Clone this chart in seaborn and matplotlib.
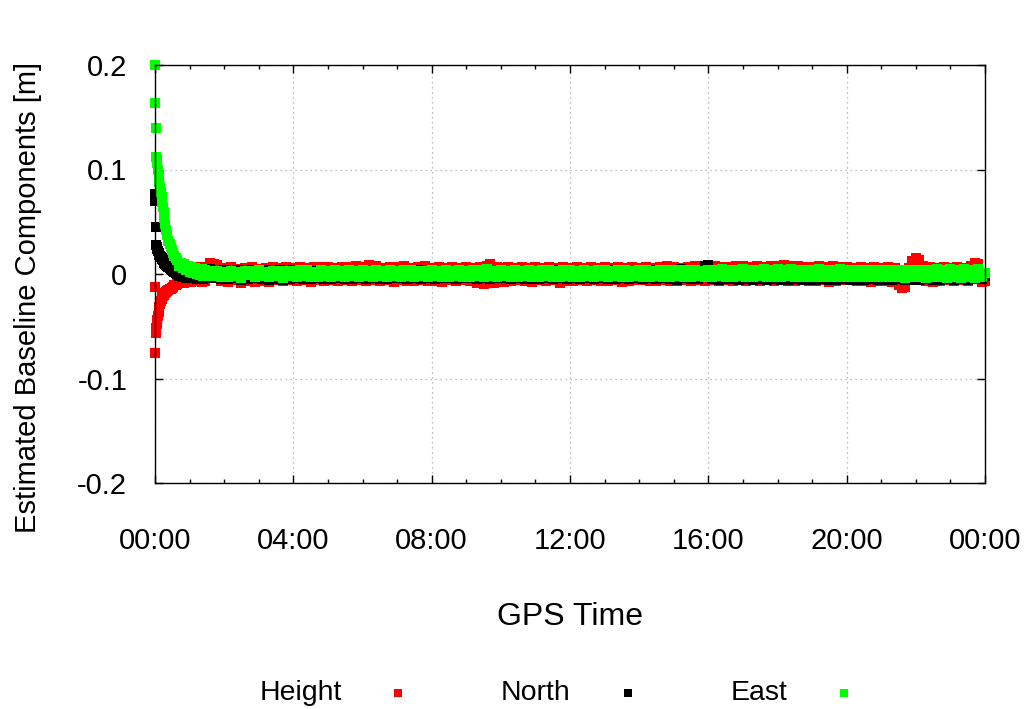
import matplotlib
matplotlib.use("Agg")
import matplotlib.pyplot as plt
from matplotlib.ticker import MultipleLocator
import seaborn as sns

# ---------------- data (GPS time in hours, values in metres) ----------------
early_time_h = [0.00, 0.01, 0.02, 0.03,
                0.05, 0.07, 0.09, 0.11, 0.13, 0.15, 0.17, 0.19, 0.21, 0.23, 0.25, 0.27,
                0.30, 0.33, 0.36, 0.39, 0.42, 0.45, 0.48,
                0.52, 0.56, 0.60,
                0.65, 0.70, 0.75, 0.80, 0.85, 0.90, 0.95, 1.00, 1.05, 1.10, 1.15, 1.20,
                1.25, 1.30, 1.35, 1.40, 1.45, 1.50]

steady_time_h = [1.6, 1.7, 1.8, 1.9,
                 2.0, 2.1, 2.2, 2.3, 2.4, 2.5, 2.6, 2.7, 2.8, 2.9,
                 3.0, 3.1, 3.2, 3.3, 3.4, 3.5, 3.6, 3.7, 3.8, 3.9,
                 4.0, 4.1, 4.2, 4.3, 4.4, 4.5, 4.6, 4.7, 4.8, 4.9,
                 5.0, 5.1, 5.2, 5.3, 5.4, 5.5, 5.6, 5.7, 5.8, 5.9,
                 6.0, 6.1, 6.2, 6.3, 6.4, 6.5, 6.6, 6.7, 6.8, 6.9,
                 7.0, 7.1, 7.2, 7.3, 7.4, 7.5, 7.6, 7.7, 7.8, 7.9,
                 8.0, 8.1, 8.2, 8.3, 8.4, 8.5, 8.6, 8.7, 8.8, 8.9,
                 9.0, 9.1, 9.2, 9.3, 9.4, 9.5, 9.6, 9.7, 9.8, 9.9,
                 10.0, 10.1, 10.2, 10.3, 10.4, 10.5, 10.6, 10.7, 10.8, 10.9,
                 11.0, 11.1, 11.2, 11.3, 11.4, 11.5, 11.6, 11.7, 11.8, 11.9,
                 12.0, 12.1, 12.2, 12.3, 12.4, 12.5, 12.6, 12.7, 12.8, 12.9,
                 13.0, 13.1, 13.2, 13.3, 13.4, 13.5, 13.6, 13.7, 13.8, 13.9,
                 14.0, 14.1, 14.2, 14.3, 14.4, 14.5, 14.6, 14.7, 14.8, 14.9,
                 15.0, 15.1, 15.2, 15.3, 15.4, 15.5, 15.6, 15.7, 15.8, 15.9,
                 16.0, 16.1, 16.2, 16.3, 16.4, 16.5, 16.6, 16.7, 16.8, 16.9,
                 17.0, 17.1, 17.2, 17.3, 17.4, 17.5, 17.6, 17.7, 17.8, 17.9,
                 18.0, 18.1, 18.2, 18.3, 18.4, 18.5, 18.6, 18.7, 18.8, 18.9,
                 19.0, 19.1, 19.2, 19.3, 19.4, 19.5, 19.6, 19.7, 19.8, 19.9,
                 20.0, 20.1, 20.2, 20.3, 20.4, 20.5, 20.6, 20.7, 20.8, 20.9,
                 21.0, 21.1, 21.2, 21.3, 21.4, 21.5, 21.6, 21.7, 21.8, 21.9,
                 22.0, 22.1, 22.2, 22.3, 22.4, 22.5, 22.6, 22.7, 22.8, 22.9,
                 23.0, 23.1, 23.2, 23.3, 23.4, 23.5, 23.6, 23.7, 23.8, 23.9,
                 24.0]

height_early = [-0.012, -0.076, -0.056, -0.052,
                -0.048, -0.044, -0.040, -0.036, -0.032, -0.029, -0.026, -0.024, -0.022, -0.021, -0.020, -0.019,
                -0.018, -0.017, -0.016, -0.015, -0.014, -0.014, -0.013,
                -0.012, -0.011, -0.011,
                -0.010, 0.002, -0.009, 0.004, -0.009, 0.006, -0.008, 0.007, -0.008, 0.006, -0.007, 0.007,
                -0.007, 0.006, -0.008, 0.007, -0.007, 0.006]
height_steady = [0.011, 0.010, 0.009, -0.007,
                 0.006, -0.008, 0.007, -0.006, 0.005, -0.009, 0.006, -0.007, 0.007, -0.008,
                 0.005, -0.007, 0.006, -0.008, 0.007, -0.006, 0.006, -0.007, 0.007, -0.006,
                 0.006, -0.007, 0.007, -0.006, 0.006, -0.008, 0.007, -0.006, 0.007, -0.007,
                 0.007, -0.006, 0.006, -0.007, 0.007, -0.006, 0.007, -0.007, 0.008, -0.006,
                 0.007, -0.007, 0.009, -0.006, 0.008, -0.007, 0.006, -0.006, 0.007, -0.008,
                 0.007, -0.006, 0.008, -0.007, 0.006, -0.007, 0.007, -0.006, 0.008, -0.007,
                 0.006, -0.007, 0.007, -0.008, 0.006, -0.006, 0.007, -0.007, 0.006, -0.006,
                 0.007, -0.007, 0.006, -0.009, 0.007, -0.010, 0.008, 0.010, -0.009, 0.007,
                 0.006, -0.008, 0.007, -0.007, 0.006, -0.006, 0.007, -0.007, 0.006, -0.008,
                 0.007, -0.006, 0.006, -0.007, 0.007, -0.006, 0.006, -0.009, 0.007, -0.007,
                 0.006, -0.007, 0.007, -0.006, 0.006, -0.007, 0.007, -0.006, 0.006, -0.007,
                 0.007, -0.007, 0.006, -0.006, 0.007, -0.008, 0.006, -0.007, 0.007, -0.006,
                 0.006, -0.006, 0.007, -0.007, 0.006, -0.007, 0.007, -0.006, 0.008, -0.007,
                 0.007, -0.007, 0.006, -0.006, 0.007, -0.007, 0.008, -0.006, 0.007, -0.007,
                 0.007, -0.006, 0.008, -0.007, 0.007, -0.006, 0.007, -0.007, 0.008, -0.006,
                 0.008, -0.007, 0.007, -0.006, 0.008, -0.007, 0.007, -0.006, 0.008, -0.007,
                 0.008, -0.006, 0.009, -0.007, 0.008, -0.007, 0.008, -0.006, 0.007, -0.007,
                 0.007, -0.007, 0.008, -0.006, 0.007, -0.008, 0.008, -0.007, 0.007, -0.006,
                 0.007, -0.006, 0.006, -0.007, 0.007, -0.007, 0.006, -0.008, 0.007, -0.007,
                 0.006, -0.007, 0.007, -0.008, 0.006, -0.011, -0.013, -0.012, 0.006, 0.012,
                 0.015, 0.013, 0.008, -0.007, 0.007, -0.008, 0.006, -0.007, 0.007, -0.006,
                 0.006, -0.007, 0.007, -0.006, 0.006, -0.007, 0.008, 0.011, 0.010, -0.008,
                 -0.007]

north_early = [0.077, 0.070, 0.045, 0.028,
               0.026, 0.024, 0.022, 0.020, 0.018, 0.017, 0.016, 0.015, 0.014, 0.013, 0.012, 0.011,
               0.010, 0.009, 0.008, 0.007, 0.006, 0.005, 0.004,
               0.003, 0.002, 0.001,
               0.000, -0.002, 0.003, -0.003, 0.002, -0.004, 0.003, -0.004, 0.002, -0.004, 0.003, -0.005,
               0.004, -0.004, 0.003, -0.005, 0.004, -0.004]
north_steady = [0.005, -0.004, 0.003, -0.005,
                0.004, -0.005, 0.003, -0.004, 0.004, -0.006, 0.002, -0.005, 0.004, -0.004,
                0.003, -0.005, 0.004, -0.006, 0.003, -0.005, 0.004, -0.006, 0.003, -0.005,
                0.004, -0.004, 0.003, -0.005, 0.004, -0.005, 0.003, -0.004, 0.004, -0.005,
                0.003, -0.005, 0.004, -0.004, 0.003, -0.005, 0.004, -0.005, 0.003, -0.004,
                0.004, -0.005, 0.003, -0.004, 0.004, -0.005, 0.003, -0.005, 0.004, -0.004,
                0.003, -0.004, 0.004, -0.005, 0.003, -0.004, 0.004, -0.005, 0.003, -0.004,
                0.004, -0.005, 0.003, -0.004, 0.004, -0.004, 0.003, -0.005, 0.004, -0.004,
                0.003, -0.004, 0.004, -0.005, 0.003, -0.004, 0.004, -0.005, 0.003, -0.004,
                0.004, -0.004, 0.003, -0.005, 0.004, -0.004, 0.003, -0.005, 0.004, -0.005,
                0.003, -0.005, 0.004, -0.004, 0.003, -0.005, 0.004, -0.004, 0.003, -0.005,
                0.004, -0.004, 0.003, -0.005, 0.004, -0.004, 0.003, -0.005, 0.004, -0.004,
                0.003, -0.005, 0.004, -0.005, 0.003, -0.004, 0.004, -0.005, 0.003, -0.004,
                0.004, -0.005, 0.003, -0.004, 0.004, -0.005, 0.003, -0.004, 0.004, -0.005,
                0.004, -0.006, 0.005, -0.004, 0.003, -0.005, 0.004, -0.005, 0.003, 0.008,
                0.009, -0.005, 0.004, -0.006, 0.003, -0.005, 0.004, -0.005, 0.003, -0.006,
                0.003, -0.005, 0.004, -0.006, 0.003, -0.005, 0.003, -0.006, 0.004, -0.005,
                0.002, -0.006, 0.003, -0.006, 0.002, -0.005, 0.003, -0.006, 0.002, -0.006,
                0.003, -0.006, 0.002, -0.005, 0.003, -0.006, 0.002, -0.006, 0.003, -0.005,
                0.002, -0.006, 0.003, -0.006, 0.002, -0.006, 0.003, -0.005, 0.002, -0.006,
                0.003, -0.006, 0.002, -0.006, 0.003, -0.005, 0.002, -0.006, 0.003, -0.006,
                0.002, -0.006, 0.003, -0.005, 0.002, -0.006, 0.003, -0.006, 0.002, -0.005,
                0.003, -0.006, 0.002, -0.005, 0.003, -0.006, 0.002, -0.005, 0.003, -0.005,
                -0.002]

east_early = [0.200, 0.164, 0.140, 0.112,
              0.110, 0.106, 0.100, 0.094, 0.088, 0.083, 0.078, 0.074, 0.069, 0.064, 0.059, 0.054,
              0.048, 0.042, 0.037, 0.032, 0.029, 0.026, 0.023,
              0.020, 0.017, 0.015,
              0.013, 0.008, 0.011, 0.006, 0.010, 0.004, 0.008, 0.002, 0.007, 0.001, 0.006, 0.000,
              0.005, -0.001, 0.005, -0.002, 0.004, -0.002]
east_steady = [0.0030, -0.0015, 0.0025, -0.0030,
               0.0020, -0.0030, 0.0030, -0.0020, 0.0015, -0.0035, 0.0030, -0.0010, 0.0025, -0.0030,
               0.0035, -0.0020, 0.0020, -0.0030, 0.0030, -0.0015, 0.0025, -0.0035, 0.0030, -0.0020,
               0.0025, -0.0030, 0.0035, -0.0020, 0.0040, -0.0025, 0.0020, -0.0030, 0.0035, -0.0015,
               0.0030, -0.0025, 0.0040, -0.0020, 0.0025, -0.0030, 0.0035, -0.0015, 0.0030, -0.0025,
               0.0035, -0.0020, 0.0030, -0.0030, 0.0040, -0.0015, 0.0025, -0.0025, 0.0035, -0.0020,
               0.0030, -0.0030, 0.0035, -0.0015, 0.0040, -0.0025, 0.0030, -0.0020, 0.0025, -0.0030,
               0.0035, -0.0020, 0.0030, -0.0025, 0.0040, -0.0030, 0.0025, -0.0015, 0.0035, -0.0025,
               0.0030, -0.0030, 0.0040, -0.0020, 0.0035, -0.0025, 0.0045, -0.0015, 0.0030, -0.0030,
               0.0035, -0.0020, 0.0030, -0.0030, 0.0040, -0.0025, 0.0030, -0.0020, 0.0035, -0.0025,
               0.0030, -0.0025, 0.0035, -0.0020, 0.0040, -0.0030, 0.0025, -0.0025, 0.0035, -0.0020,
               0.0040, -0.0025, 0.0030, -0.0030, 0.0035, -0.0020, 0.0030, -0.0025, 0.0040, -0.0020,
               0.0035, -0.0030, 0.0030, -0.0020, 0.0040, -0.0025, 0.0035, -0.0030, 0.0030, -0.0020,
               0.0040, -0.0025, 0.0035, -0.0030, 0.0030, -0.0020, 0.0040, -0.0025, 0.0035, -0.0030,
               0.0035, -0.0020, 0.0040, -0.0025, 0.0035, -0.0030, 0.0040, -0.0020, 0.0030, -0.0025,
               0.0040, -0.0030, 0.0035, -0.0020, 0.0045, -0.0025, 0.0035, -0.0030, 0.0040, -0.0020,
               0.0045, -0.0025, 0.0040, -0.0030, 0.0035, -0.0020, 0.0045, -0.0025, 0.0040, -0.0030,
               0.0045, -0.0025, 0.0040, -0.0020, 0.0045, -0.0030, 0.0035, -0.0025, 0.0040, -0.0030,
               0.0040, -0.0030, 0.0045, -0.0025, 0.0035, -0.0030, 0.0040, -0.0025, 0.0045, -0.0030,
               0.0040, -0.0025, 0.0035, -0.0030, 0.0040, -0.0030, 0.0035, -0.0025, 0.0040, -0.0030,
               0.0035, -0.0030, 0.0040, -0.0025, 0.0035, -0.0030, 0.0040, -0.0035, 0.0035, -0.0030,
               0.0040, -0.0030, 0.0035, -0.0035, 0.0040, -0.0030, 0.0045, -0.0030, 0.0040, -0.0035,
               0.0045, -0.0030, 0.0040, -0.0035, 0.0045, -0.0030, 0.0040, -0.0035, 0.0045, -0.0030,
               0.0010]

series_names = ["Height", "North", "East"]
series_colors = ["#ff0000", "#000000", "#00ff00"]

xtick_pos = [0, 4, 8, 12, 16, 20, 24]
xtick_labels = ["00:00", "04:00", "08:00", "12:00", "16:00", "20:00", "00:00"]
ytick_pos = [-0.2, -0.1, 0.0, 0.1, 0.2]
ytick_labels = ["-0.2", "-0.1", "0", "0.1", "0.2"]

# ---------------- plotting ----------------
sns.set_theme(style="white")
plt.rcParams["font.family"] = ["Liberation Sans", "DejaVu Sans"]
plt.rcParams["text.color"] = "black"

gps_time_h = early_time_h + steady_time_h
series_values = [height_early + height_steady,
                 north_early + north_steady,
                 east_early + east_steady]

W, H = 1025, 709
fig = plt.figure(figsize=(W / 100, H / 100), dpi=100)
ax = fig.add_axes([155 / W, 1 - 483 / H, 830 / W, 418 / H])

for name, color, vals in zip(series_names, series_colors, series_values):
    sns.scatterplot(x=gps_time_h, y=vals, color=color, marker="s", s=42,
                    linewidth=0, label=name, ax=ax, zorder=3, clip_on=False)

ax.set_xlim(0, 24)
ax.set_ylim(-0.2, 0.2)
ax.set_xticks(xtick_pos, xtick_labels)
ax.set_yticks(ytick_pos, ytick_labels)
ax.xaxis.set_minor_locator(MultipleLocator(1))

ax.tick_params(which="both", direction="in", top=True, right=True,
               bottom=True, left=True, color="black", width=1.0)
ax.tick_params(which="major", length=5.8, labelsize=21, labelcolor="black")
ax.tick_params(which="minor", length=2.9)
ax.tick_params(axis="x", which="major", pad=32)
ax.tick_params(axis="y", which="major", pad=20)

ax.grid(True, which="major", linestyle=(0, (1, 3)), color="#a8a8a8", linewidth=0.9)
ax.set_axisbelow(True)
for sp in ax.spines.values():
    sp.set_color("black")
    sp.set_linewidth(1.0)
    sp.set_visible(True)
    sp.set_zorder(4)

ax.set_xlabel("GPS Time", fontsize=23, color="black")
ax.xaxis.set_label_coords(0.5, -0.285)
ax.set_ylabel("Estimated Baseline Components [m]", fontsize=21, color="black")
ax.yaxis.set_label_coords(-0.136, 0.443)

leg = ax.legend(loc="center", bbox_to_anchor=(0.552, 0.0226), bbox_transform=fig.transFigure,
                ncol=3, frameon=False, markerfirst=False, handlelength=2.0,
                handletextpad=1.0, columnspacing=2.6, fontsize=20.5, scatterpoints=1,
                markerscale=0.9, borderaxespad=0, borderpad=0)
for txt in leg.get_texts():
    txt.set_color("black")

fig.savefig("out.png", dpi=100)
